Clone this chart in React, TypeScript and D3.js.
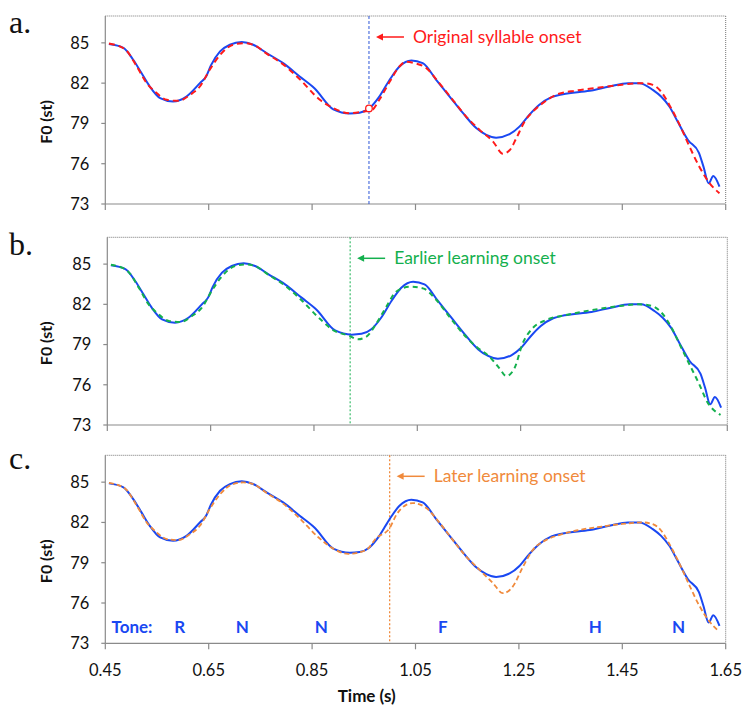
import React from 'react';
import * as d3 from 'd3';

// ---------- data ----------
const yTicks = [73, 76, 79, 82, 85];
const xTicks = [0.45, 0.65, 0.85, 1.05, 1.25, 1.45, 1.65];
const xTickLabels = ['0.45', '0.65', '0.85', '1.05', '1.25', '1.45', '1.65'];

const blueTime = [0.457, 0.485, 0.504, 0.52, 0.536, 0.556, 0.581, 0.607, 0.633, 0.645, 0.654, 0.672, 0.691, 0.714, 0.736, 0.762, 0.794, 0.826, 0.855, 0.891, 0.923, 0.942, 0.961, 0.98, 1.0, 1.019, 1.042, 1.064, 1.09, 1.116, 1.142, 1.168, 1.187, 1.206, 1.232, 1.251, 1.27, 1.289, 1.313, 1.335, 1.387, 1.425, 1.461, 1.483, 1.509, 1.525, 1.541, 1.557, 1.577, 1.598, 1.607, 1.617, 1.626, 1.638];
const blueF0 = [84.91, 84.62, 83.74, 82.75, 81.75, 80.88, 80.63, 81.0, 82.0, 82.5, 83.3, 84.36, 84.86, 85.06, 84.86, 84.24, 83.49, 82.5, 81.6, 80.05, 79.74, 79.8, 80.14, 81.0, 82.25, 83.24, 83.69, 83.49, 82.25, 81.0, 79.76, 78.64, 78.15, 77.94, 78.2, 78.76, 79.64, 80.38, 80.96, 81.18, 81.43, 81.75, 82.0, 82.0, 81.5, 81.0, 80.26, 79.14, 77.77, 76.83, 75.78, 74.54, 75.09, 74.29];

const redTime = [0.457, 0.488, 0.511, 0.53, 0.546, 0.569, 0.591, 0.614, 0.633, 0.652, 0.672, 0.697, 0.717, 0.736, 0.762, 0.794, 0.826, 0.865, 0.891, 0.923, 0.949, 0.966, 0.98, 1.0, 1.019, 1.032, 1.048, 1.071, 1.096, 1.122, 1.148, 1.174, 1.2, 1.219, 1.232, 1.245, 1.261, 1.277, 1.296, 1.322, 1.361, 1.406, 1.445, 1.49, 1.509, 1.525, 1.541, 1.561, 1.58, 1.599, 1.619, 1.638];
const redF0 = [84.95, 84.53, 83.24, 82.0, 81.37, 80.76, 80.68, 81.13, 81.75, 83.0, 84.1, 84.86, 84.98, 84.86, 84.2, 83.4, 82.3, 80.76, 80.14, 79.76, 79.88, 80.0, 80.76, 82.1, 83.24, 83.6, 83.49, 83.12, 82.0, 80.76, 79.51, 78.52, 77.65, 76.75, 77.0, 77.9, 79.14, 79.88, 80.51, 81.13, 81.45, 81.67, 81.87, 82.0, 81.87, 81.37, 80.38, 78.89, 77.27, 75.78, 74.54, 73.8];

const greenTime = [0.457, 0.488, 0.511, 0.53, 0.546, 0.569, 0.591, 0.614, 0.633, 0.652, 0.672, 0.697, 0.717, 0.736, 0.762, 0.794, 0.826, 0.862, 0.887, 0.919, 0.935, 0.951, 0.971, 0.99, 1.009, 1.035, 1.061, 1.087, 1.112, 1.138, 1.164, 1.19, 1.209, 1.222, 1.238, 1.254, 1.273, 1.299, 1.338, 1.389, 1.44, 1.479, 1.505, 1.521, 1.541, 1.56, 1.579, 1.595, 1.611, 1.637];
const greenF0 = [84.95, 84.53, 83.24, 82.0, 81.37, 80.76, 80.68, 81.13, 81.75, 83.0, 84.1, 84.86, 84.98, 84.86, 84.2, 83.4, 82.3, 80.9, 80.08, 79.64, 79.39, 79.58, 80.58, 81.82, 82.94, 83.31, 83.19, 82.32, 81.08, 79.84, 78.84, 78.09, 77.23, 76.65, 77.23, 79.09, 80.21, 80.83, 81.2, 81.58, 81.87, 82.0, 81.87, 81.45, 80.33, 78.84, 77.35, 76.1, 74.74, 73.75];

const orangeTime = [0.457, 0.488, 0.511, 0.53, 0.546, 0.569, 0.591, 0.614, 0.633, 0.652, 0.672, 0.697, 0.717, 0.736, 0.762, 0.794, 0.826, 0.862, 0.891, 0.92, 0.955, 0.974, 1.0, 1.013, 1.032, 1.045, 1.071, 1.097, 1.122, 1.148, 1.174, 1.2, 1.219, 1.238, 1.258, 1.277, 1.303, 1.329, 1.361, 1.406, 1.445, 1.49, 1.509, 1.525, 1.541, 1.561, 1.58, 1.599, 1.619, 1.634];
const orangeF0 = [84.95, 84.53, 83.24, 82.0, 81.37, 80.76, 80.68, 81.13, 81.75, 83.0, 84.1, 84.86, 84.98, 84.86, 84.2, 83.4, 82.3, 80.9, 80.05, 79.66, 79.96, 80.83, 81.58, 82.57, 83.31, 83.44, 83.07, 81.95, 80.7, 79.46, 78.47, 77.47, 76.73, 77.22, 78.71, 79.96, 80.7, 81.08, 81.4, 81.67, 81.87, 82.0, 81.87, 81.4, 80.4, 78.9, 77.3, 75.8, 74.6, 73.99];

const onsetA = 0.96;
const onsetB = 0.92;
const onsetC = 1.0;
const markerTime = 0.96;
const markerF0 = 80.12;

const toneLabels = ['R', 'N', 'N', 'F', 'H', 'N'];
const toneTimes = [0.594, 0.715, 0.868, 1.103, 1.398, 1.559];

// ---------- styles ----------
const BLUE = '#1a48f2';
const FONT = 'Lato, "Open Sans", sans-serif';

type PanelProps = {
  left: number; top: number; right: number; bottom: number;
  label: string; labelY: number;
  compT: number[]; compF: number[];
  color: string; dash: string; width: number;
  onset: number; onsetColor: string; onsetDash: string; onsetWidth: number;
  annText: string;
  showX?: boolean; tones?: boolean; marker?: boolean;
};

function Panel(p: PanelProps) {
  const x = d3.scaleLinear().domain([0.45, 1.65]).range([p.left, p.right]);
  const y = d3.scaleLinear().domain([73, 87]).range([p.bottom, p.top]);
  const line = d3.line<[number, number]>()
    .x(d => x(d[0]))
    .y(d => y(d[1]))
    .curve(d3.curveMonotoneX);
  const bluePts: [number, number][] = blueTime.map((t, i) => [t, blueF0[i]]);
  const compPts: [number, number][] = p.compT.map((t, i) => [t, p.compF[i]]);
  const ox = x(p.onset);
  const annY = p.top + 21;
  return (
    <g>
      <text x={9} y={p.labelY} fontFamily='"Liberation Serif", "DejaVu Serif", serif' fontSize={32} fill="#111">{p.label}</text>
      {/* plot frame */}
      <line x1={p.left} x2={p.right} y1={p.top} y2={p.top} stroke="#777" strokeWidth={1} strokeDasharray="1,1" />
      <line x1={p.right} x2={p.right} y1={p.top} y2={p.bottom} stroke="#777" strokeWidth={1} strokeDasharray="1,1" />
      <line x1={p.left} x2={p.left} y1={p.top} y2={p.bottom} stroke="#8a8a8a" strokeWidth={1.2} />
      <line x1={p.left} x2={p.right} y1={p.bottom} y2={p.bottom} stroke="#8a8a8a" strokeWidth={1.2} />
      {yTicks.map(v => (
        <g key={'y' + v}>
          <line x1={p.left - 4} x2={p.left} y1={y(v)} y2={y(v)} stroke="#8a8a8a" strokeWidth={1.2} />
          <text x={p.left - 16} y={y(v)} dy="0.36em" textAnchor="end" fontFamily={FONT} fontSize={16.5} fill="#111">{v}</text>
        </g>
      ))}
      {xTicks.map((t, i) => (
        <g key={'x' + i}>
          <line x1={x(t)} x2={x(t)} y1={p.bottom} y2={p.bottom + 6} stroke="#8a8a8a" strokeWidth={1.2} />
          {p.showX && (
            <text x={x(t)} y={p.bottom + 33} textAnchor="middle" fontFamily={FONT} fontSize={16.5} fill="#111">{xTickLabels[i]}</text>
          )}
        </g>
      ))}
      <text transform={`translate(52,${p.top + 106}) rotate(-90)`} textAnchor="middle" fontFamily={FONT} fontWeight="bold" fontSize={16} fill="#111">F0 (st)</text>
      {/* onset line */}
      <line x1={ox} x2={ox} y1={p.top} y2={p.bottom} stroke={p.onsetColor} strokeWidth={p.onsetWidth} strokeDasharray={p.onsetDash} />
      {/* annotation */}
      <line x1={ox + 12} x2={ox + 35} y1={annY} y2={annY} stroke={p.color} strokeWidth={1.5} />
      <path d={`M${ox + 7},${annY} L${ox + 14},${annY - 3.5} L${ox + 14},${annY + 3.5} Z`} fill={p.color} />
      <text x={ox + 44} y={annY + 6} fontFamily={FONT} fontSize={17.5} fill={p.color}>{p.annText}</text>
      {/* curves */}
      <path d={line(bluePts) || ''} fill="none" stroke={BLUE} strokeWidth={2} strokeLinejoin="round" />
      <path d={line(compPts) || ''} fill="none" stroke={p.color} strokeWidth={p.width} strokeDasharray={p.dash} />
      {p.marker && (
        <circle cx={x(markerTime)} cy={y(markerF0)} r={3.3} fill="#fff" stroke={p.color} strokeWidth={1.3} />
      )}
      {p.tones && (
        <g fontFamily={FONT} fontWeight="bold" fontSize={17} fill={BLUE}>
          <text x={x(0.462)} y={p.bottom - 10}>Tone:</text>
          {toneLabels.map((s, i) => (
            <text key={'t' + i} x={x(toneTimes[i])} y={p.bottom - 10} textAnchor="middle">{s}</text>
          ))}
        </g>
      )}
    </g>
  );
}

export default function App() {
  return (
    <svg width={743} height={708} style={{ position: 'absolute', left: 0, top: 0, background: '#fff' }}>
      <rect width={743} height={708} fill="#fff" />
      <Panel left={105.3} right={725.7} top={16} bottom={204} label="a." labelY={33}
        compT={redTime} compF={redF0} color="#ff1a1a" dash="6,4" width={2}
        onset={onsetA} onsetColor="#2d55d8" onsetDash="3,2" onsetWidth={1}
        annText="Original syllable onset" marker />
      <Panel left={107.3} right={727.3} top={237.3} bottom={425} label="b." labelY={255}
        compT={greenTime} compF={greenF0} color="#14b04e" dash="5,4" width={2}
        onset={onsetB} onsetColor="#14b04e" onsetDash="2,2" onsetWidth={1}
        annText="Earlier learning onset" />
      <Panel left={105.3} right={725.7} top={455.3} bottom={643.3} label="c." labelY={469}
        compT={orangeTime} compF={orangeF0} color="#f08a3c" dash="5,3" width={1.8}
        onset={onsetC} onsetColor="#f08a3c" onsetDash="2,2" onsetWidth={1.3}
        annText="Later learning onset" showX tones />
      <text x={366.7} y={702} textAnchor="middle" fontFamily={FONT} fontWeight="bold" fontSize={17} fill="#111">Time (s)</text>
    </svg>
  );
}
